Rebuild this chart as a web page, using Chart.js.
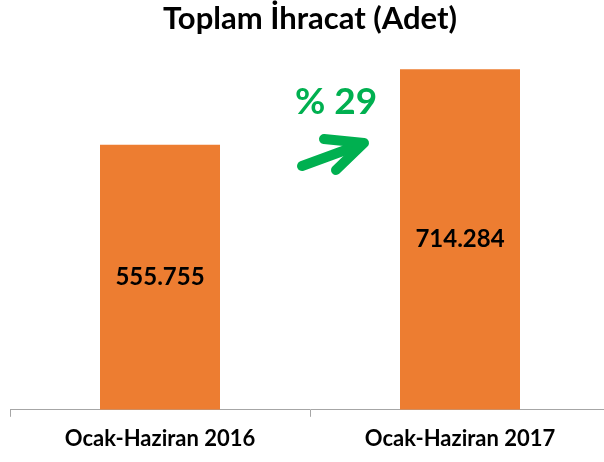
<!DOCTYPE html>
<html>
<head>
<meta charset="utf-8">
<script src="https://cdn.jsdelivr.net/npm/chart.js@4/dist/chart.umd.min.js"></script>
<style>
  html, body { margin: 0; padding: 0; background: #fff; overflow: hidden; }
  #wrap { width: 620px; height: 462px; }
</style>
</head>
<body>
<div id="wrap"><canvas id="exportChart"></canvas></div>
<script>
// chart data
const categories = ['Ocak-Haziran 2016', 'Ocak-Haziran 2017'];
const exportCounts = [555755, 714284];
const growthLabel = '% 29';

const ORANGE = '#ED7D31';
const GREEN = '#00B050';

function formatTr(n) {
    return String(n).replace(/\B(?=(\d{3})+(?!\d))/g, '.');
}

// value labels centred inside the bars
const barValues = {
    id: 'barValues',
    afterDatasetsDraw(chart) {
        const ctx = chart.ctx;
        const meta = chart.getDatasetMeta(0);
        ctx.save();
        ctx.font = 'bold 24px Lato';
        ctx.fillStyle = '#000';
        ctx.textAlign = 'center';
        ctx.textBaseline = 'middle';
        meta.data.forEach((bar, i) => {
            const mid = (bar.y + bar.base) / 2;
            ctx.fillText(formatTr(exportCounts[i]), bar.x, mid);
        });
        ctx.restore();
    }
};

// growth note with arrow between the bars
const growthNote = {
    id: 'growthNote',
    afterDraw(chart) {
        const ctx = chart.ctx;
        const x = chart.scales.x;
        const cx = (x.getPixelForValue(0) + x.getPixelForValue(1)) / 2;
        ctx.save();
        ctx.fillStyle = GREEN;
        ctx.strokeStyle = GREEN;
        ctx.font = 'bold 37px Lato';
        ctx.textAlign = 'center';
        ctx.textBaseline = 'middle';
        ctx.fillText(growthLabel, cx + 26, 102);

        ctx.lineWidth = 10;
        ctx.lineCap = 'round';
        ctx.lineJoin = 'round';
        ctx.beginPath();
        ctx.moveTo(cx - 8, 166);
        ctx.lineTo(cx + 52, 144);
        ctx.stroke();
        ctx.beginPath();
        ctx.moveTo(cx + 14, 139);
        ctx.lineTo(cx + 54, 143);
        ctx.lineTo(cx + 26, 170);
        ctx.stroke();
        ctx.restore();
    }
};

new Chart(document.getElementById('exportChart').getContext('2d'), {
    type: 'bar',
    data: {
        labels: categories,
        datasets: [{
            label: 'Toplam İhracat (Adet)',
            data: exportCounts,
            backgroundColor: ORANGE,
            borderWidth: 0,
            barPercentage: 0.4,
            categoryPercentage: 1
        }]
    },
    options: {
        responsive: true,
        maintainAspectRatio: false,
        animation: false,
        layout: { padding: { left: 10, right: 10, top: 0, bottom: 1 } },
        plugins: {
            legend: { display: false },
            tooltip: { enabled: false },
            title: {
                display: true,
                text: 'Toplam İhracat (Adet)',
                color: '#000',
                font: { family: 'Lato', size: 31, weight: 'bold', lineHeight: 1.2 },
                padding: { top: 0, bottom: 15 }
            }
        },
        scales: {
            x: {
                grid: {
                    display: true,
                    offset: true,
                    drawOnChartArea: false,
                    drawTicks: true,
                    tickLength: 7,
                    color: '#A6A6A6'
                },
                border: { display: true, color: '#A6A6A6', width: 1 },
                ticks: {
                    color: '#000',
                    padding: 10,
                    font: { family: 'Lato', size: 22, weight: 'bold', lineHeight: 1.1 }
                }
            },
            y: {
                display: false,
                min: 0,
                max: 750000
            }
        }
    },
    plugins: [barValues, growthNote]
});
</script>
</body>
</html>
